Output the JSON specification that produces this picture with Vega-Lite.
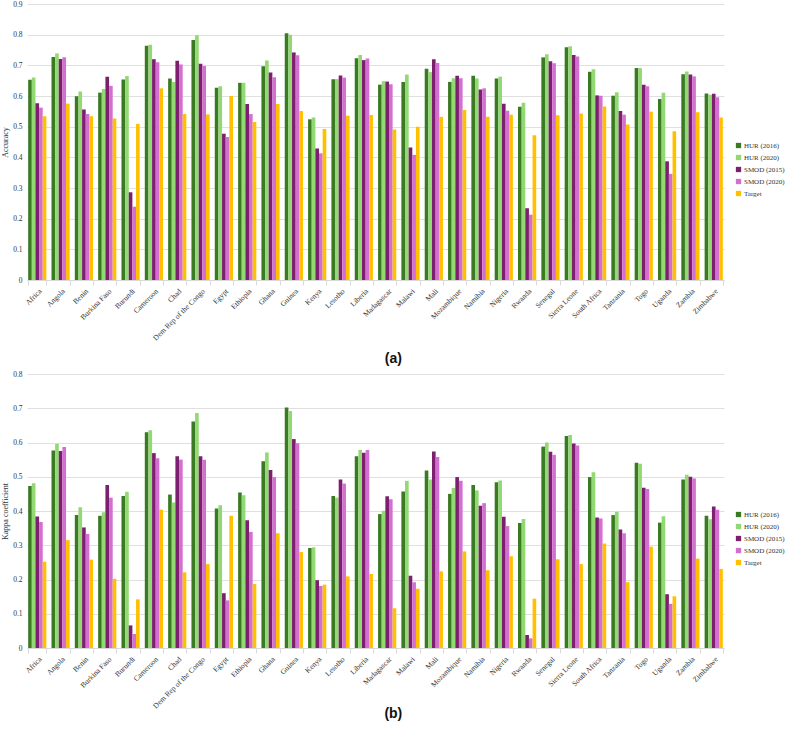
{
"$schema": "https://vega.github.io/schema/vega-lite/v6.json",
"padding": {"left": 1, "top": 0, "right": 0, "bottom": 0},
"data": {"values": [
{"country":"Africa","series":"HUR (2016)","accuracy":0.653,"kappa":0.473},
{"country":"Africa","series":"HUR (2020)","accuracy":0.660,"kappa":0.481},
{"country":"Africa","series":"SMOD (2015)","accuracy":0.576,"kappa":0.384},
{"country":"Africa","series":"SMOD (2020)","accuracy":0.562,"kappa":0.368},
{"country":"Africa","series":"Target","accuracy":0.534,"kappa":0.252},
{"country":"Angola","series":"HUR (2016)","accuracy":0.727,"kappa":0.577},
{"country":"Angola","series":"HUR (2020)","accuracy":0.739,"kappa":0.596},
{"country":"Angola","series":"SMOD (2015)","accuracy":0.721,"kappa":0.575},
{"country":"Angola","series":"SMOD (2020)","accuracy":0.726,"kappa":0.587},
{"country":"Angola","series":"Target","accuracy":0.575,"kappa":0.315},
{"country":"Benin","series":"HUR (2016)","accuracy":0.599,"kappa":0.388},
{"country":"Benin","series":"HUR (2020)","accuracy":0.615,"kappa":0.411},
{"country":"Benin","series":"SMOD (2015)","accuracy":0.556,"kappa":0.352},
{"country":"Benin","series":"SMOD (2020)","accuracy":0.541,"kappa":0.333},
{"country":"Benin","series":"Target","accuracy":0.534,"kappa":0.258},
{"country":"Burkina Faso","series":"HUR (2016)","accuracy":0.611,"kappa":0.386},
{"country":"Burkina Faso","series":"HUR (2020)","accuracy":0.623,"kappa":0.396},
{"country":"Burkina Faso","series":"SMOD (2015)","accuracy":0.663,"kappa":0.476},
{"country":"Burkina Faso","series":"SMOD (2020)","accuracy":0.633,"kappa":0.439},
{"country":"Burkina Faso","series":"Target","accuracy":0.527,"kappa":0.202},
{"country":"Burundi","series":"HUR (2016)","accuracy":0.654,"kappa":0.444},
{"country":"Burundi","series":"HUR (2020)","accuracy":0.665,"kappa":0.456},
{"country":"Burundi","series":"SMOD (2015)","accuracy":0.286,"kappa":0.066},
{"country":"Burundi","series":"SMOD (2020)","accuracy":0.239,"kappa":0.041},
{"country":"Burundi","series":"Target","accuracy":0.509,"kappa":0.142},
{"country":"Cameroon","series":"HUR (2016)","accuracy":0.764,"kappa":0.630},
{"country":"Cameroon","series":"HUR (2020)","accuracy":0.767,"kappa":0.636},
{"country":"Cameroon","series":"SMOD (2015)","accuracy":0.720,"kappa":0.569},
{"country":"Cameroon","series":"SMOD (2020)","accuracy":0.710,"kappa":0.554},
{"country":"Cameroon","series":"Target","accuracy":0.625,"kappa":0.404},
{"country":"Chad","series":"HUR (2016)","accuracy":0.657,"kappa":0.448},
{"country":"Chad","series":"HUR (2020)","accuracy":0.646,"kappa":0.425},
{"country":"Chad","series":"SMOD (2015)","accuracy":0.715,"kappa":0.560},
{"country":"Chad","series":"SMOD (2020)","accuracy":0.703,"kappa":0.550},
{"country":"Chad","series":"Target","accuracy":0.541,"kappa":0.221},
{"country":"Dem Rep of the Congo","series":"HUR (2016)","accuracy":0.783,"kappa":0.661},
{"country":"Dem Rep of the Congo","series":"HUR (2020)","accuracy":0.798,"kappa":0.686},
{"country":"Dem Rep of the Congo","series":"SMOD (2015)","accuracy":0.705,"kappa":0.560},
{"country":"Dem Rep of the Congo","series":"SMOD (2020)","accuracy":0.698,"kappa":0.550},
{"country":"Dem Rep of the Congo","series":"Target","accuracy":0.540,"kappa":0.245},
{"country":"Egypt","series":"HUR (2016)","accuracy":0.627,"kappa":0.407},
{"country":"Egypt","series":"HUR (2020)","accuracy":0.632,"kappa":0.417},
{"country":"Egypt","series":"SMOD (2015)","accuracy":0.477,"kappa":0.160},
{"country":"Egypt","series":"SMOD (2020)","accuracy":0.466,"kappa":0.139},
{"country":"Egypt","series":"Target","accuracy":0.600,"kappa":0.386},
{"country":"Ethiopia","series":"HUR (2016)","accuracy":0.643,"kappa":0.454},
{"country":"Ethiopia","series":"HUR (2020)","accuracy":0.643,"kappa":0.446},
{"country":"Ethiopia","series":"SMOD (2015)","accuracy":0.574,"kappa":0.373},
{"country":"Ethiopia","series":"SMOD (2020)","accuracy":0.541,"kappa":0.339},
{"country":"Ethiopia","series":"Target","accuracy":0.515,"kappa":0.187},
{"country":"Ghana","series":"HUR (2016)","accuracy":0.697,"kappa":0.545},
{"country":"Ghana","series":"HUR (2020)","accuracy":0.716,"kappa":0.571},
{"country":"Ghana","series":"SMOD (2015)","accuracy":0.677,"kappa":0.520},
{"country":"Ghana","series":"SMOD (2020)","accuracy":0.661,"kappa":0.499},
{"country":"Ghana","series":"Target","accuracy":0.574,"kappa":0.335},
{"country":"Guinea","series":"HUR (2016)","accuracy":0.805,"kappa":0.702},
{"country":"Guinea","series":"HUR (2020)","accuracy":0.800,"kappa":0.692},
{"country":"Guinea","series":"SMOD (2015)","accuracy":0.742,"kappa":0.610},
{"country":"Guinea","series":"SMOD (2020)","accuracy":0.733,"kappa":0.598},
{"country":"Guinea","series":"Target","accuracy":0.551,"kappa":0.280},
{"country":"Kenya","series":"HUR (2016)","accuracy":0.524,"kappa":0.292},
{"country":"Kenya","series":"HUR (2020)","accuracy":0.530,"kappa":0.294},
{"country":"Kenya","series":"SMOD (2015)","accuracy":0.429,"kappa":0.198},
{"country":"Kenya","series":"SMOD (2020)","accuracy":0.413,"kappa":0.181},
{"country":"Kenya","series":"Target","accuracy":0.492,"kappa":0.185},
{"country":"Lesotho","series":"HUR (2016)","accuracy":0.655,"kappa":0.444},
{"country":"Lesotho","series":"HUR (2020)","accuracy":0.655,"kappa":0.439},
{"country":"Lesotho","series":"SMOD (2015)","accuracy":0.667,"kappa":0.492},
{"country":"Lesotho","series":"SMOD (2020)","accuracy":0.660,"kappa":0.480},
{"country":"Lesotho","series":"Target","accuracy":0.536,"kappa":0.209},
{"country":"Liberia","series":"HUR (2016)","accuracy":0.723,"kappa":0.560},
{"country":"Liberia","series":"HUR (2020)","accuracy":0.734,"kappa":0.578},
{"country":"Liberia","series":"SMOD (2015)","accuracy":0.717,"kappa":0.570},
{"country":"Liberia","series":"SMOD (2020)","accuracy":0.722,"kappa":0.578},
{"country":"Liberia","series":"Target","accuracy":0.538,"kappa":0.216},
{"country":"Madagascar","series":"HUR (2016)","accuracy":0.637,"kappa":0.391},
{"country":"Madagascar","series":"HUR (2020)","accuracy":0.648,"kappa":0.401},
{"country":"Madagascar","series":"SMOD (2015)","accuracy":0.647,"kappa":0.443},
{"country":"Madagascar","series":"SMOD (2020)","accuracy":0.638,"kappa":0.434},
{"country":"Madagascar","series":"Target","accuracy":0.491,"kappa":0.116},
{"country":"Malawi","series":"HUR (2016)","accuracy":0.646,"kappa":0.457},
{"country":"Malawi","series":"HUR (2020)","accuracy":0.670,"kappa":0.488},
{"country":"Malawi","series":"SMOD (2015)","accuracy":0.432,"kappa":0.211},
{"country":"Malawi","series":"SMOD (2020)","accuracy":0.408,"kappa":0.192},
{"country":"Malawi","series":"Target","accuracy":0.500,"kappa":0.173},
{"country":"Mali","series":"HUR (2016)","accuracy":0.689,"kappa":0.518},
{"country":"Mali","series":"HUR (2020)","accuracy":0.678,"kappa":0.492},
{"country":"Mali","series":"SMOD (2015)","accuracy":0.720,"kappa":0.574},
{"country":"Mali","series":"SMOD (2020)","accuracy":0.708,"kappa":0.558},
{"country":"Mali","series":"Target","accuracy":0.532,"kappa":0.224},
{"country":"Mozambique","series":"HUR (2016)","accuracy":0.646,"kappa":0.450},
{"country":"Mozambique","series":"HUR (2020)","accuracy":0.658,"kappa":0.467},
{"country":"Mozambique","series":"SMOD (2015)","accuracy":0.666,"kappa":0.499},
{"country":"Mozambique","series":"SMOD (2020)","accuracy":0.658,"kappa":0.488},
{"country":"Mozambique","series":"Target","accuracy":0.554,"kappa":0.282},
{"country":"Namibia","series":"HUR (2016)","accuracy":0.666,"kappa":0.476},
{"country":"Namibia","series":"HUR (2020)","accuracy":0.657,"kappa":0.460},
{"country":"Namibia","series":"SMOD (2015)","accuracy":0.621,"kappa":0.415},
{"country":"Namibia","series":"SMOD (2020)","accuracy":0.625,"kappa":0.423},
{"country":"Namibia","series":"Target","accuracy":0.532,"kappa":0.227},
{"country":"Nigeria","series":"HUR (2016)","accuracy":0.657,"kappa":0.484},
{"country":"Nigeria","series":"HUR (2020)","accuracy":0.663,"kappa":0.489},
{"country":"Nigeria","series":"SMOD (2015)","accuracy":0.575,"kappa":0.383},
{"country":"Nigeria","series":"SMOD (2020)","accuracy":0.552,"kappa":0.356},
{"country":"Nigeria","series":"Target","accuracy":0.539,"kappa":0.268},
{"country":"Rwanda","series":"HUR (2016)","accuracy":0.565,"kappa":0.365},
{"country":"Rwanda","series":"HUR (2020)","accuracy":0.578,"kappa":0.377},
{"country":"Rwanda","series":"SMOD (2015)","accuracy":0.234,"kappa":0.038},
{"country":"Rwanda","series":"SMOD (2020)","accuracy":0.213,"kappa":0.028},
{"country":"Rwanda","series":"Target","accuracy":0.472,"kappa":0.144},
{"country":"Senegal","series":"HUR (2016)","accuracy":0.726,"kappa":0.588},
{"country":"Senegal","series":"HUR (2020)","accuracy":0.736,"kappa":0.600},
{"country":"Senegal","series":"SMOD (2015)","accuracy":0.713,"kappa":0.573},
{"country":"Senegal","series":"SMOD (2020)","accuracy":0.707,"kappa":0.564},
{"country":"Senegal","series":"Target","accuracy":0.537,"kappa":0.259},
{"country":"Sierra Leone","series":"HUR (2016)","accuracy":0.759,"kappa":0.619},
{"country":"Sierra Leone","series":"HUR (2020)","accuracy":0.762,"kappa":0.622},
{"country":"Sierra Leone","series":"SMOD (2015)","accuracy":0.734,"kappa":0.597},
{"country":"Sierra Leone","series":"SMOD (2020)","accuracy":0.729,"kappa":0.591},
{"country":"Sierra Leone","series":"Target","accuracy":0.543,"kappa":0.245},
{"country":"South Africa","series":"HUR (2016)","accuracy":0.679,"kappa":0.499},
{"country":"South Africa","series":"HUR (2020)","accuracy":0.687,"kappa":0.513},
{"country":"South Africa","series":"SMOD (2015)","accuracy":0.602,"kappa":0.381},
{"country":"South Africa","series":"SMOD (2020)","accuracy":0.601,"kappa":0.378},
{"country":"South Africa","series":"Target","accuracy":0.566,"kappa":0.305},
{"country":"Tanzania","series":"HUR (2016)","accuracy":0.601,"kappa":0.388},
{"country":"Tanzania","series":"HUR (2020)","accuracy":0.612,"kappa":0.398},
{"country":"Tanzania","series":"SMOD (2015)","accuracy":0.551,"kappa":0.346},
{"country":"Tanzania","series":"SMOD (2020)","accuracy":0.539,"kappa":0.335},
{"country":"Tanzania","series":"Target","accuracy":0.507,"kappa":0.192},
{"country":"Togo","series":"HUR (2016)","accuracy":0.691,"kappa":0.541},
{"country":"Togo","series":"HUR (2020)","accuracy":0.691,"kappa":0.538},
{"country":"Togo","series":"SMOD (2015)","accuracy":0.637,"kappa":0.468},
{"country":"Togo","series":"SMOD (2020)","accuracy":0.632,"kappa":0.464},
{"country":"Togo","series":"Target","accuracy":0.549,"kappa":0.296},
{"country":"Uganda","series":"HUR (2016)","accuracy":0.590,"kappa":0.366},
{"country":"Uganda","series":"HUR (2020)","accuracy":0.611,"kappa":0.385},
{"country":"Uganda","series":"SMOD (2015)","accuracy":0.387,"kappa":0.157},
{"country":"Uganda","series":"SMOD (2020)","accuracy":0.346,"kappa":0.129},
{"country":"Uganda","series":"Target","accuracy":0.485,"kappa":0.151},
{"country":"Zambia","series":"HUR (2016)","accuracy":0.671,"kappa":0.492},
{"country":"Zambia","series":"HUR (2020)","accuracy":0.680,"kappa":0.506},
{"country":"Zambia","series":"SMOD (2015)","accuracy":0.670,"kappa":0.500},
{"country":"Zambia","series":"SMOD (2020)","accuracy":0.664,"kappa":0.495},
{"country":"Zambia","series":"Target","accuracy":0.547,"kappa":0.261},
{"country":"Zimbabwe","series":"HUR (2016)","accuracy":0.608,"kappa":0.386},
{"country":"Zimbabwe","series":"HUR (2020)","accuracy":0.604,"kappa":0.376},
{"country":"Zimbabwe","series":"SMOD (2015)","accuracy":0.607,"kappa":0.413},
{"country":"Zimbabwe","series":"SMOD (2020)","accuracy":0.596,"kappa":0.404},
{"country":"Zimbabwe","series":"Target","accuracy":0.530,"kappa":0.231}
]},
"config": {
  "view": {"stroke": null},
  "font": "Liberation Serif",
  "axis": {"labelFont": "Liberation Serif", "labelFontSize": 7.5, "labelColor": "#333333", "titleFont": "Liberation Serif", "titleFontSize": 8, "titleFontWeight": "normal", "titleColor": "#333333", "gridColor": "#e0e0e0"},
  "legend": {"labelFont": "Liberation Serif", "labelFontSize": 7, "labelColor": "#333333", "symbolType": "square", "symbolSize": 28, "symbolStrokeWidth": 0, "rowPadding": 4, "labelOffset": 2, "labelLimit": 60},
  "title": {"font": "Liberation Sans", "fontSize": 14, "fontWeight": "bold", "color": "#111111"}
},
"resolve": {"legend": {"color": "independent"}},
"spacing": 3,
"vconcat": [
  {
    "title": {"text": "(a)", "orient": "bottom", "anchor": "middle", "frame": "bounds", "offset": 11},
    "width": 697, "height": 276,
    "mark": {"type": "bar"},
    "encoding": {
      "x": {"field": "country", "type": "nominal", "sort": null, "scale": {"paddingInner": 0.22, "paddingOuter": 0.05},
            "axis": {"title": null, "labelAngle": -45, "tickBand": "extent", "domainColor": "#d9d9d9", "tickColor": "#d9d9d9", "tickSize": 5, "labelLimit": 200, "labelPadding": 2, "grid": false}},
      "xOffset": {"field": "series", "type": "nominal", "sort": ["HUR (2016)", "HUR (2020)", "SMOD (2015)", "SMOD (2020)", "Target"]},
      "y": {"field": "accuracy", "type": "quantitative", "scale": {"domain": [0, 0.9]},
            "axis": {"title": "Accuracy", "values": [0, 0.1, 0.2, 0.3, 0.4, 0.5, 0.6, 0.7, 0.8, 0.9], "format": ".1~f", "domain": false, "ticks": false, "labelPadding": 5, "titlePadding": 3}},
      "color": {"field": "series", "type": "nominal",
                "scale": {"domain": ["HUR (2016)", "HUR (2020)", "SMOD (2015)", "SMOD (2020)", "Target"], "range": ["#3a7a22", "#92d873", "#7c1f6e", "#d46fd2", "#ffc000"]},
                "legend": {"title": null, "orient": "none", "legendX": 708, "legendY": 138}}
    }
  },
  {
    "title": {"text": "(b)", "orient": "bottom", "anchor": "middle", "frame": "bounds", "offset": -2},
    "width": 697, "height": 274,
    "mark": {"type": "bar"},
    "encoding": {
      "x": {"field": "country", "type": "nominal", "sort": null, "scale": {"paddingInner": 0.22, "paddingOuter": 0.05},
            "axis": {"title": null, "labelAngle": -45, "tickBand": "extent", "domainColor": "#d9d9d9", "tickColor": "#d9d9d9", "tickSize": 5, "labelLimit": 200, "labelPadding": 2, "grid": false}},
      "xOffset": {"field": "series", "type": "nominal", "sort": ["HUR (2016)", "HUR (2020)", "SMOD (2015)", "SMOD (2020)", "Target"]},
      "y": {"field": "kappa", "type": "quantitative", "scale": {"domain": [0, 0.8]},
            "axis": {"title": "Kappa coefficient", "values": [0, 0.1, 0.2, 0.3, 0.4, 0.5, 0.6, 0.7, 0.8], "format": ".1~f", "domain": false, "ticks": false, "labelPadding": 5, "titlePadding": 3}},
      "color": {"field": "series", "type": "nominal",
                "scale": {"domain": ["HUR (2016)", "HUR (2020)", "SMOD (2015)", "SMOD (2020)", "Target"], "range": ["#3a7a22", "#92d873", "#7c1f6e", "#d46fd2", "#ffc000"]},
                "legend": {"title": null, "orient": "none", "legendX": 708, "legendY": 137}}
    }
  }
]
}
